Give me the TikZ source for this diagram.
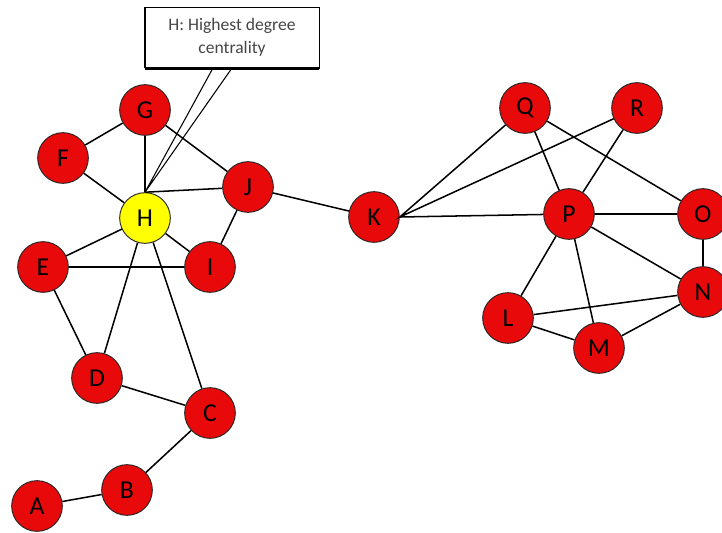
\documentclass[tikz,border=0pt]{standalone}
\usepackage{fontspec}
\setmainfont{Carlito}
\definecolor{nodered}{RGB}{232,10,10}
\definecolor{hubyellow}{RGB}{255,255,0}
\definecolor{notegray}{RGB}{70,70,70}

\begin{document}
\begin{tikzpicture}[x=0.03cm,y=-0.03cm,
    vertex/.style={circle,draw=black!85,line width=0.8pt,fill=nodered,
      minimum size=1.52cm,inner sep=0pt,font=\fontsize{22}{22}\selectfont},
    hub/.style={vertex,fill=hubyellow},
    edge/.style={line width=1.3pt},
    note/.style={draw,line width=0.8pt,fill=white,minimum width=5.22cm,
      minimum height=1.83cm,align=center,text=notegray,
      font=\fontsize{15}{19.5}\selectfont}]
  \useasboundingbox (0,0) rectangle (722,533);
  % left cluster
  \node[vertex] (A) at (37,506) {A};
  \node[vertex] (B) at (127,490) {B};
  \node[vertex] (C) at (210,413) {C};
  \node[vertex] (D) at (97,378) {D};
  \node[vertex] (E) at (43,267) {E};
  \node[vertex] (F) at (63,158) {F};
  \node[vertex] (G) at (145,110) {G};
  \node[hub] (H) at (145,218) {H};
  \node[vertex] (I) at (210,267) {I};
  \node[vertex] (J) at (248,187) {J};
  % right cluster
  \node[vertex] (K) at (374,217) {K};
  \node[vertex] (Q) at (525,108) {Q};
  \node[vertex] (R) at (637,108) {R};
  \node[vertex] (P) at (569,214) {P};
  \node[vertex] (O) at (703,214) {O};
  \node[vertex] (N) at (703,292) {N};
  \node[vertex] (L) at (508,318) {L};
  \node[vertex] (M) at (599,348) {M};

  \draw[edge] (A) -- (B) -- (C) -- (D) -- (E) -- (I) -- (J) -- (G) -- (F);
  \draw[edge] (C) -- (H) -- (D);
  \draw[edge] (E) -- (H) -- (I);
  \draw[edge] (F) -- (H) -- (G);
  \draw[edge] (H.north) -- (J);
  \draw[edge] (J) -- (K);
  \draw[edge] (K.east) -- (P) -- (O) -- (N) -- (M) -- (L) -- (N) -- (P) -- (M);
  \draw[edge] (Q) -- (K.east) -- (R) -- (P) -- (Q) -- (O);
  \draw[edge] (P) -- (L);

  % callout
  \node[note] (note) at (232,37.5) {H: Highest degree\\centrality};
  \draw[line width=2.2pt] (note.south west) -- (note.south east);
  \draw[line width=1.5pt] (note.south west) -- (note.north west);
  \coordinate (tipa) at (213,68);
  \coordinate (tipb) at (232,68);
  \draw[line width=0.9pt] (tipa) -- (H.north) -- (tipb);
\end{tikzpicture}
\end{document}
